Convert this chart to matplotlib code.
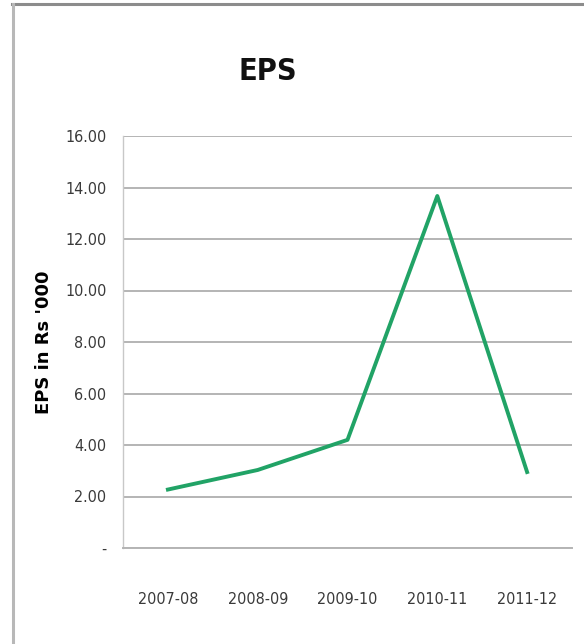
#!/usr/bin/env python3

import matplotlib
matplotlib.use('Agg')
import matplotlib.pyplot as plt
from matplotlib.lines import Line2D
from matplotlib.ticker import FuncFormatter
from matplotlib import font_manager

# Data
years = ['2007-08', '2008-09', '2009-10', '2010-11', '2011-12']
eps = [2.27, 3.03, 4.20, 13.67, 2.95]
yticks = [0, 2, 4, 6, 8, 10, 12, 14, 16]

# Pick a narrow font if one is around
names = {f.name for f in font_manager.fontManager.ttflist}
narrow = 'DejaVu Sans'
for cand in ['Liberation Sans Narrow', 'DejaVu Sans Condensed']:
    if cand in names:
        narrow = cand
        break

fig = plt.figure(figsize=(5.84, 6.44), dpi=100)
ax = fig.add_axes([123 / 584, 1 - 548 / 644, 449 / 584, 412 / 644])

x = range(len(years))
ax.plot(x, eps, color='#21a366', linewidth=2.8)

ax.set_xlim(-0.5, len(years) - 0.5)
ax.set_ylim(0, 16)
ax.set_yticks(yticks)
ax.yaxis.set_major_formatter(FuncFormatter(lambda v, p: '-' if v == 0 else '%.2f' % v))
ax.set_xticks(list(x))
ax.set_xticklabels(years)

ax.grid(axis='y', color='#b4b4b4', linewidth=1.4)
ax.set_axisbelow(True)
for s in ['top', 'right']:
    ax.spines[s].set_visible(False)
ax.spines['left'].set_color('#c8c8c8')
ax.spines['left'].set_linewidth(1.0)
ax.spines['bottom'].set_color('#b4b4b4')
ax.spines['bottom'].set_linewidth(1.4)

ax.tick_params(axis='y', length=0, pad=12, labelcolor='#3a3a3a')
ax.tick_params(axis='x', length=0, pad=32, labelcolor='#3a3a3a')
for lab in ax.get_xticklabels() + ax.get_yticklabels():
    lab.set_fontfamily(narrow)
    lab.set_fontstretch('condensed')
    lab.set_fontsize(11.5)

ax.set_ylabel("EPS in Rs '000", fontsize=13, fontweight='bold', family='DejaVu Sans')
ax.yaxis.set_label_coords((53 - 123) / 449, 0.5)

fig.text(268 / 584, 1 - 72 / 644, 'EPS', ha='center', va='center',
         fontsize=22, family=narrow, fontstretch='condensed',
         fontweight='bold', color='#111111')

# Chart border (top and left edges visible)
fig.add_artist(Line2D([12 / 584, 1], [1 - 4 / 644, 1 - 4 / 644],
                      color='#8c8c8c', linewidth=2.2, transform=fig.transFigure))
fig.add_artist(Line2D([13 / 584, 13 / 584], [0, 1 - 4 / 644],
                      color='#b8b8b8', linewidth=2.2, transform=fig.transFigure))

fig.savefig('out.png', dpi=100)
